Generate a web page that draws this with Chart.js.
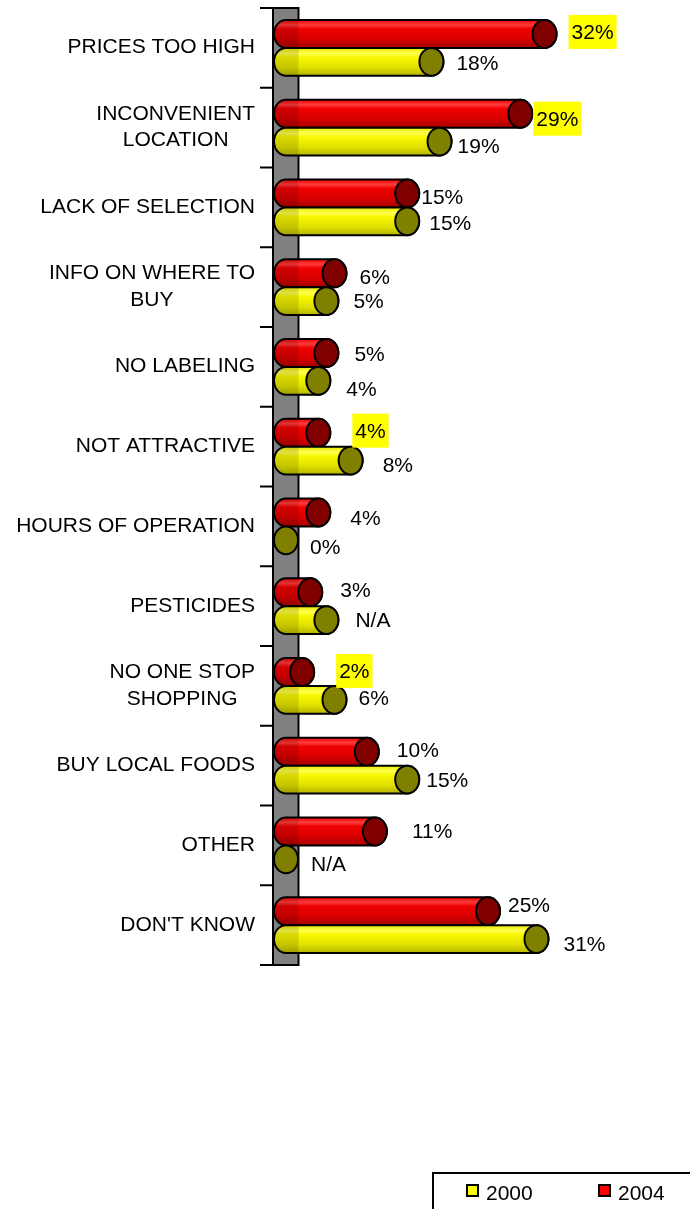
<!DOCTYPE html>
<html>
<head>
<meta charset="utf-8">
<title>Reasons for not buying</title>
<script src="https://cdn.jsdelivr.net/npm/chart.js@4.4.1/dist/chart.umd.min.js"></script>
<style>
  html, body { margin: 0; padding: 0; background: #fff; }
  #wrap { width: 690px; height: 1209px; overflow: hidden; }
</style>
</head>
<body>
<div id="wrap"><canvas id="barChart" width="690" height="1209"></canvas></div>
<script>
// Survey answers, one row per reason
const categories = [
  ["PRICES TOO HIGH"],
  ["INCONVENIENT", "LOCATION"],
  ["LACK OF SELECTION"],
  ["INFO ON WHERE TO", "BUY"],
  ["NO LABELING"],
  ["NOT ATTRACTIVE"],
  ["HOURS OF OPERATION"],
  ["PESTICIDES"],
  ["NO ONE STOP", "SHOPPING"],
  ["BUY LOCAL FOODS"],
  ["OTHER"],
  ["DON'T KNOW"],
];

const values2004 = [32, 29, 15, 6, 5, 4, 4, 3, 2, 10, 11, 25];
const values2000 = [18, 19, 15, 5, 4, 8, 0, 5, 6, 15, 0, 31];

const labels2004 = ["32%", "29%", "15%", "6%", "5%", "4%", "4%", "3%", "2%", "10%", "11%", "25%"];
const labels2000 = ["18%", "19%", "15%", "5%", "4%", "8%", "0%", "N/A", "6%", "15%", "N/A", "31%"];

// which 2004 labels sit on a yellow marker
const marked2004 = [true, true, false, false, false, true, false, false, true, false, false, false];

// hand placed label offsets (dx from cap edge, dy from bar centre)
const nudge2004 = [[15, -2], [4, 5], [2, 3], [13, 3], [16, 1], [25, -2], [20, 5], [18, -3], [25, -1], [18, -2], [25, -1], [8, -7]];
const nudge2000 = [[13, 1], [6, 4], [10, 1], [15, -1], [16, 8], [20, 4], [12, 6], [17, -1], [12, -2], [7, 0], [13, 4], [15, 4]];

const FONT = '21px "Liberation Sans", Arial, sans-serif';
const CAP_RX = 12;

const seriesStyle = [
  {
    // 2004
    stops: [[0, "#f00000"], [0.18, "#ff3c3c"], [0.32, "#f00000"], [0.65, "#dc0000"], [1, "#a80000"]],
    cap: "#800000",
    swatch: "#ff0000",
  },
  {
    // 2000
    stops: [[0, "#e8e800"], [0.2, "#ffff50"], [0.35, "#f8f800"], [0.7, "#e0e000"], [1, "#b4b400"]],
    cap: "#808000",
    swatch: "#ffff00",
  },
];

function wallBounds(area) {
  return { left: area.left - 13, right: area.left + 12.5 };
}

function drawCylinder(ctx, x0, x1, cy, h, style, wall) {
  const ry = h / 2;
  const top = cy - ry;
  const bottom = cy + ry;

  if (x1 - x0 > 0.5) {
    ctx.beginPath();
    ctx.moveTo(x1, top);
    ctx.lineTo(x0, top);
    ctx.ellipse(x0, cy, CAP_RX, ry, 0, -Math.PI / 2, Math.PI / 2, true);
    ctx.lineTo(x1, bottom);
    ctx.ellipse(x1, cy, CAP_RX, ry, 0, Math.PI / 2, -Math.PI / 2, true);
    ctx.closePath();

    const grad = ctx.createLinearGradient(0, top, 0, bottom);
    style.stops.forEach((s) => grad.addColorStop(s[0], s[1]));
    ctx.fillStyle = grad;
    ctx.fill();

    // bar is a bit see-through where it crosses the wall
    ctx.save();
    ctx.clip();
    ctx.fillStyle = "rgba(0,0,0,0.12)";
    ctx.fillRect(wall.left, top, wall.right - wall.left, h);
    ctx.restore();

    ctx.strokeStyle = "#000";
    ctx.lineWidth = 2;
    ctx.stroke();
  }

  // end cap
  ctx.beginPath();
  ctx.ellipse(x1, cy, CAP_RX, ry, 0, 0, Math.PI * 2);
  ctx.fillStyle = style.cap;
  ctx.fill();
  ctx.strokeStyle = "#000";
  ctx.lineWidth = 2;
  ctx.stroke();
}

const cylinderPlugin = {
  id: "cylinders",
  beforeDatasetsDraw(chart) {
    const { ctx, chartArea } = chart;
    const yScale = chart.scales.y;
    const wall = wallBounds(chartArea);
    const step = (chartArea.bottom - chartArea.top) / categories.length;

    ctx.save();
    // grey back wall
    ctx.fillStyle = "#808080";
    ctx.fillRect(wall.left, chartArea.top, wall.right - wall.left, chartArea.bottom - chartArea.top);
    ctx.strokeStyle = "#000";
    ctx.lineWidth = 2;
    ctx.strokeRect(wall.left, chartArea.top, wall.right - wall.left, chartArea.bottom - chartArea.top);

    // tick marks between categories
    ctx.beginPath();
    for (let i = 0; i <= categories.length; i++) {
      const y = chartArea.top + i * step;
      ctx.moveTo(wall.left - 13, y);
      ctx.lineTo(wall.left, y);
    }
    ctx.stroke();

    // category names: block right aligned, lines centred in it
    ctx.font = FONT;
    ctx.fillStyle = "#000";
    ctx.textAlign = "center";
    ctx.textBaseline = "alphabetic";
    const labelRight = wall.left - 18;
    categories.forEach((lines, i) => {
      const cy = yScale.getPixelForValue(i);
      const w = Math.max(...lines.map((t) => ctx.measureText(t).width));
      const cx = labelRight - w / 2;
      lines.forEach((t, k) => {
        ctx.fillText(t, cx, cy + 5.4 + (k - (lines.length - 1) / 2) * 26.7);
      });
    });
    ctx.restore();
  },

  afterDatasetsDraw(chart) {
    const { ctx, chartArea } = chart;
    const wall = wallBounds(chartArea);
    const texts = [labels2004, labels2000];
    const nudges = [nudge2004, nudge2000];

    ctx.save();
    chart.data.datasets.forEach((ds, di) => {
      const meta = chart.getDatasetMeta(di);
      meta.data.forEach((bar) => {
        const p = bar.getProps(["x", "y", "base", "height"], true);
        drawCylinder(ctx, p.base, p.x, p.y, p.height, seriesStyle[di], wall);
      });
    });

    // value labels
    ctx.font = FONT;
    ctx.textAlign = "left";
    ctx.textBaseline = "alphabetic";
    chart.data.datasets.forEach((ds, di) => {
      const meta = chart.getDatasetMeta(di);
      meta.data.forEach((bar, i) => {
        const p = bar.getProps(["x", "y"], true);
        const tx = p.x + CAP_RX + nudges[di][i][0];
        const ty = p.y + nudges[di][i][1];
        const text = texts[di][i];
        if (di === 0 && marked2004[i]) {
          const w = ctx.measureText(text).width;
          ctx.fillStyle = "#ffff00";
          ctx.fillRect(tx - 3, ty - 17, w + 6, 34);
        }
        ctx.fillStyle = "#000";
        ctx.fillText(text, tx, ty + 7.5);
      });
    });
    ctx.restore();
  },

  afterDraw(chart) {
    const { ctx } = chart;
    // legend box, runs off the bottom right corner
    const boxX = 433;
    const boxY = 1173;
    ctx.save();
    ctx.strokeStyle = "#000";
    ctx.lineWidth = 2;
    ctx.strokeRect(boxX, boxY, 300, 100);

    ctx.font = FONT;
    ctx.textAlign = "left";
    ctx.textBaseline = "alphabetic";
    [1, 0].forEach((di, k) => {
      const sx = boxX + 34 + k * 132;
      ctx.fillStyle = seriesStyle[di].swatch;
      ctx.fillRect(sx, 1185, 11, 11);
      ctx.strokeRect(sx, 1185, 11, 11);
      ctx.fillStyle = "#000";
      ctx.fillText(chart.data.datasets[di].label, sx + 19, 1200);
    });
    ctx.restore();
  },
};

const ctx = document.getElementById("barChart").getContext("2d");
const barChart = new Chart(ctx, {
  type: "bar",
  data: {
    labels: categories,
    datasets: [
      {
        label: "2004",
        data: values2004,
        backgroundColor: "transparent",
        borderWidth: 0,
        categoryPercentage: 0.7,
        barPercentage: 1.0,
      },
      {
        label: "2000",
        data: values2000,
        backgroundColor: "transparent",
        borderWidth: 0,
        categoryPercentage: 0.7,
        barPercentage: 1.0,
      },
    ],
  },
  options: {
    responsive: false,
    animation: false,
    devicePixelRatio: 1,
    indexAxis: "y",
    layout: { padding: { left: 286, right: 0, top: 8, bottom: 244 } },
    plugins: { legend: { display: false }, tooltip: { enabled: false } },
    scales: {
      x: { display: false, min: 0, max: 50 },
      y: { display: false },
    },
  },
  plugins: [cylinderPlugin],
});
</script>
</body>
</html>
